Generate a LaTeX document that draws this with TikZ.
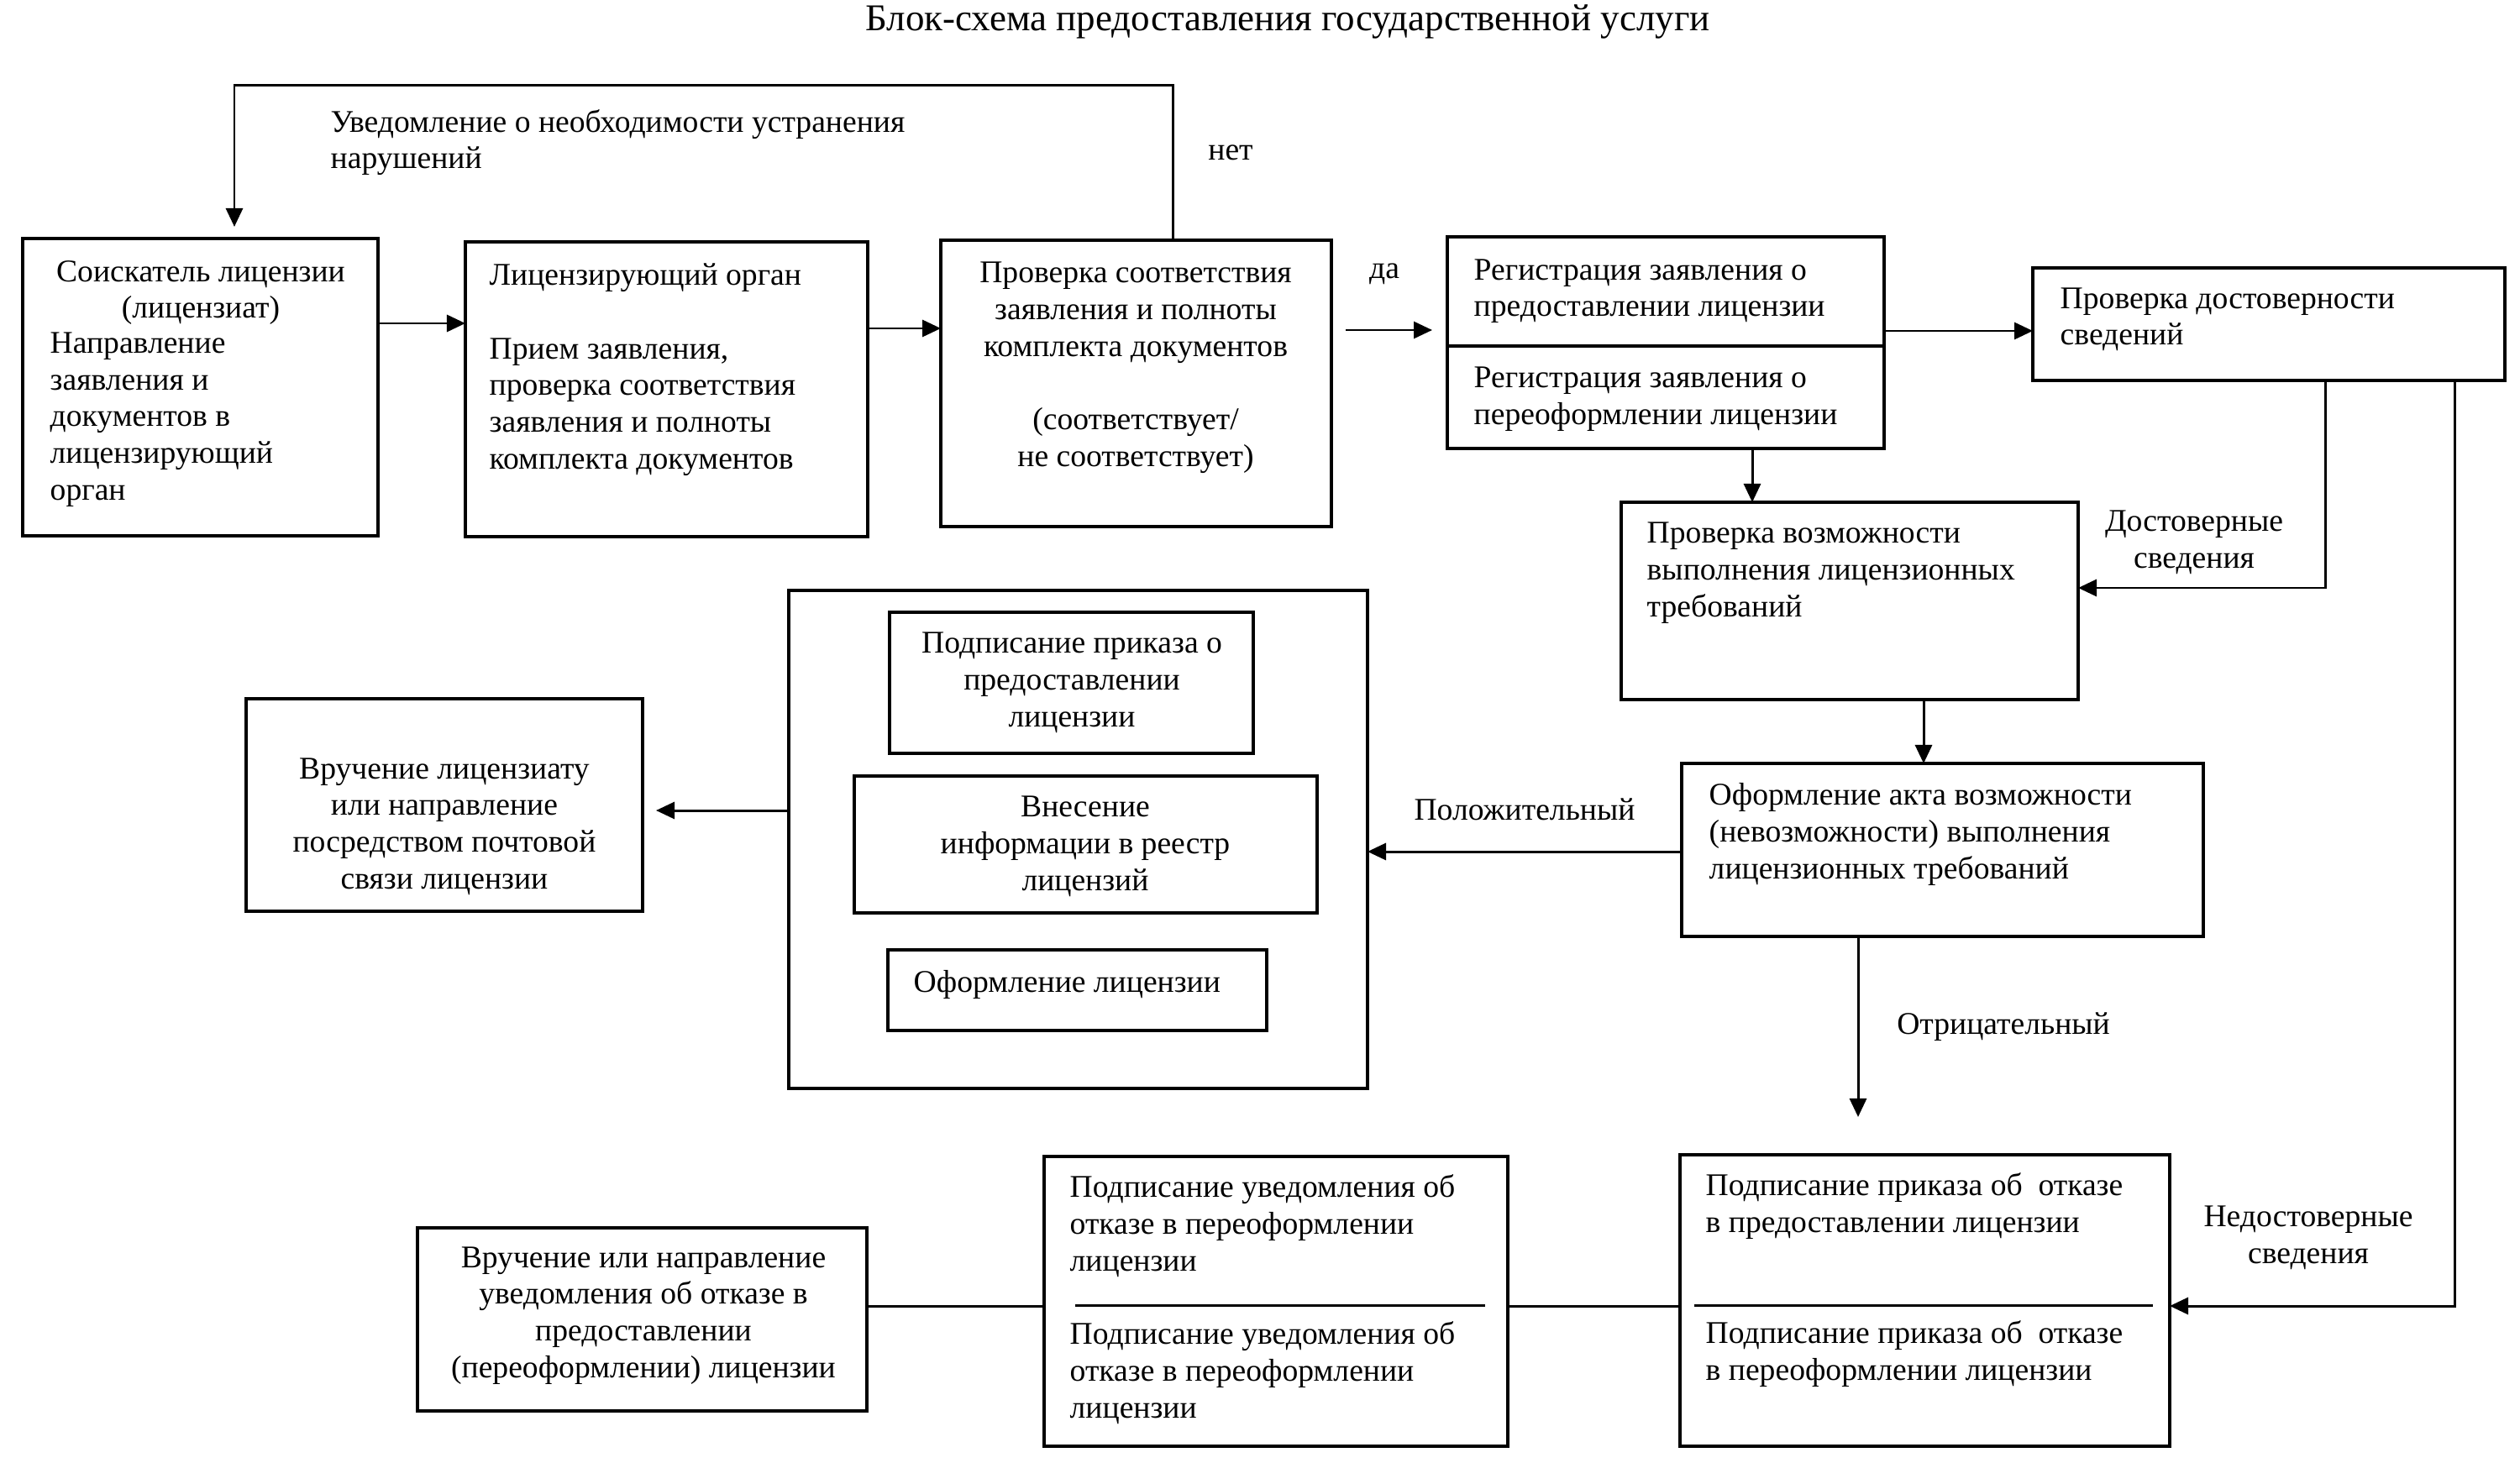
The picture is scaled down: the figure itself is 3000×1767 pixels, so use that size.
\documentclass[tikz,border=0pt]{standalone}
\usepackage{fontspec}
\setmainfont{Liberation Serif}
\usetikzlibrary{arrows.meta,fit,calc}
\begin{document}
\begin{tikzpicture}[x=0.01cm,y=-0.01cm,
  font=\fontsize{10.7pt}{12.4pt}\selectfont,
  boxst/.style={draw,line width=0.9pt,inner sep=0pt,outer sep=0pt},
  arr/.style={line width=0.85pt,-{Triangle[length=0.22cm,width=0.2cm]}},
  ln/.style={line width=0.85pt},
  ltxt/.style={anchor=base west,align=left,inner sep=0pt},
  ctxt/.style={anchor=base,align=center,inner sep=0pt}]
\useasboundingbox (0,0) rectangle (3000,1767);
% title
\node[ctxt,font=\fontsize{12.8pt}{14pt}\selectfont] (title) at (1533,37) {Блок-схема предоставления государственной услуги};
% boxes
\node[boxst,fit={(27,284) (450,638)}] (B1) {};
\node[boxst,fit={(554,288) (1033,639)}] (B2) {};
\node[boxst,fit={(1120,286) (1585,627)}] (B3) {};
\node[boxst,fit={(1723,282) (2243,412)}] (REG1) {};
\node[boxst,fit={(1723,412) (2243,534)}] (REG2) {};
\node[boxst,fit={(2420,319) (2982,453)}] (DOST) {};
\node[boxst,fit={(1930,598) (2474,833)}] (VOZM) {};
\node[boxst,fit={(2002,909) (2623,1115)}] (AKT) {};
\node[boxst,fit={(939,703) (1628,1296)}] (BIG) {};
\node[boxst,fit={(1059,729) (1492,897)}] (IN1) {};
\node[boxst,fit={(1017,924) (1568,1087)}] (IN2) {};
\node[boxst,fit={(1057,1131) (1508,1227)}] (IN3) {};
\node[boxst,fit={(293,832) (765,1085)}] (VR1) {};
\node[boxst,fit={(497,1462) (1032,1680)}] (VR2) {};
\node[boxst,fit={(1243,1377) (1795,1722)}] (UVED) {};
\node[boxst,fit={(2000,1375) (2583,1722)}] (OTK) {};
% dividers
\coordinate (dU1) at (1280,1554); \coordinate (dU2) at (1768,1554);
\coordinate (dO1) at (2017,1554); \coordinate (dO2) at (2563,1554);
\draw[ln] (dU1) -- (dU2);
\draw[ln] (dO1) -- (dO2);
% texts (base anchor = baseline of the last line)
\node[ltxt] (tloop) at (393,201) {Уведомление о необходимости устранения\\нарушений};
\node[ctxt] (tnet) at (1465,191) {нет};
\node[ctxt] (tda) at (1648,332) {да};
\node[ctxt] (tB1a) at (239,379) {Соискатель лицензии\\(лицензиат)};
\node[ltxt] (tB1b) at (59,595) {Направление\\заявления и\\документов в\\лицензирующий\\орган};
\node[ltxt] (tB2) at (582,558) {Лицензирующий орган\\[12.4pt]Прием заявления,\\проверка соответствия\\заявления и полноты\\комплекта документов};
\node[ctxt] (tB3) at (1352,555) {Проверка соответствия\\заявления и полноты\\комплекта документов\\[12.4pt](соответствует/\\не соответствует)};
\node[ltxt] (tR1) at (1754,377) {Регистрация заявления о\\предоставлении лицензии};
\node[ltxt] (tR2) at (1754,505) {Регистрация заявления о\\переоформлении лицензии};
\node[ltxt] (tD) at (2452,411) {Проверка достоверности\\сведений};
\node[ltxt] (tV) at (1960,734) {Проверка возможности\\выполнения лицензионных\\требований};
\node[ltxt] (tA) at (2034,1046) {Оформление акта возможности\\(невозможности) выполнения\\лицензионных требований};
\node[ctxt] (tI1) at (1276,865) {Подписание приказа о\\предоставлении\\лицензии};
\node[ctxt] (tI2) at (1292,1060) {Внесение\\информации в реестр\\лицензий};
\node[ltxt] (tI3) at (1087,1181) {Оформление лицензии};
\node[ctxt] (tVR1) at (529,1058) {Вручение лицензиату\\или направление\\посредством почтовой\\связи лицензии};
\node[ctxt] (tVR2) at (766,1640) {Вручение или направление\\уведомления об отказе в\\предоставлении\\(переоформлении) лицензии};
\node[ltxt] (tU1) at (1273,1513) {Подписание уведомления об\\отказе в переоформлении\\лицензии};
\node[ltxt] (tU2) at (1273,1688) {Подписание уведомления об\\отказе в переоформлении\\лицензии};
\node[ltxt] (tO1) at (2030,1467) {Подписание приказа об\ \ отказе\\в предоставлении лицензии};
\node[ltxt] (tO2) at (2030,1643) {Подписание приказа об\ \ отказе\\в переоформлении лицензии};
\node[ctxt] (tpos) at (1815,976) {Положительный};
\node[ctxt] (tneg) at (2385,1231) {Отрицательный};
\node[ctxt] (tdost) at (2612,676) {Достоверные\\сведения};
\node[ctxt] (tnedost) at (2748,1504) {Недостоверные\\сведения};
% connector coordinates
\coordinate (c12) at (0,385);
\coordinate (c23) at (0,391);
\coordinate (loopR) at (1396,102);
\coordinate (loopL) at (279,102);
\coordinate (cda) at (0,393);
\coordinate (crd) at (0,394);
\coordinate (crv) at (2086,0);
\coordinate (cdv) at (2768,700);
\coordinate (cdo) at (2922,1555);
\coordinate (cva) at (2290,0);
\coordinate (cab) at (0,1014);
\coordinate (cao) at (2212,0);
\coordinate (cbv) at (0,965);
\coordinate (cbot) at (0,1555);
% connectors
\draw[arr] (B1.east |- c12) -- (B2.west |- c12);
\draw[arr] (B2.east |- c23) -- (B3.west |- c23);
\draw[arr,shorten >=0.14cm] (B3.north -| loopR) -- (loopR) -- (loopL) -- (B1.north -| loopL);
\draw[arr,shorten <=0.17cm,shorten >=0.18cm] (B3.east |- cda) -- (REG1.west |- cda);
\draw[arr] (REG1.east |- crd) -- (DOST.west |- crd);
\draw[arr] (REG2.south -| crv) -- (VOZM.north -| crv);
\draw[arr] (DOST.south -| cdv) |- (VOZM.east |- cdv);
\draw[arr] (DOST.south -| cdo) |- (OTK.east |- cdo);
\draw[arr] (VOZM.south -| cva) -- (AKT.north -| cva);
\draw[arr] (AKT.west |- cab) -- (BIG.east |- cab);
\draw[arr,shorten >=0.45cm] (AKT.south -| cao) -- (OTK.north -| cao);
\draw[arr,shorten >=0.16cm] (BIG.west |- cbv) -- (VR1.east |- cbv);
\draw[ln] (OTK.west |- cbot) -- (UVED.east |- cbot);
\draw[ln] (UVED.west |- cbot) -- (VR2.east |- cbot);
\end{tikzpicture}
\end{document}
